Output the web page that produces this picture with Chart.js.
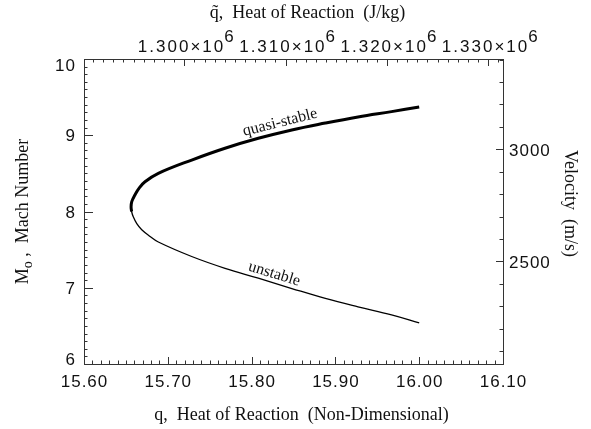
<!DOCTYPE html>
<html>
<head>
<meta charset="utf-8">
<script src="https://cdn.jsdelivr.net/npm/chart.js@4.4.1/dist/chart.umd.min.js"></script>
<style>
  html, body { margin: 0; padding: 0; background: #fff; }
  #wrap { width: 591px; height: 429px; }
</style>
</head>
<body>
<div id="wrap"><canvas id="myChart" width="591" height="429"></canvas></div>
<script>
// conversion factors for the secondary axes
const RT0 = 82699;   // J/kg per unit of non-dimensional q
const A0 = 340.3;    // m/s per unit Mach

// quasi-stable branch (thick), starts just below the turning point
const qStable    = [15.6568, 15.6562, 15.6570, 15.6609, 15.6660, 15.6728, 15.6887, 15.7285, 15.7683, 15.8080, 15.8480, 15.8880, 15.9270, 15.9670, 16.0000];
const machStable = [8.00,    8.06,    8.13,    8.22,    8.31,    8.39,    8.50,    8.675,   8.83,    8.96,    9.07,    9.16,    9.24,    9.31,    9.37];

// unstable branch (thin), starts just above the turning point
const qUnstable    = [15.6570, 15.6562, 15.6568, 15.6588, 15.6630, 15.6689, 15.6780, 15.6887, 15.7285, 15.7683, 15.8080, 15.8480, 15.8880, 15.9270, 15.9670, 16.0000];
const machUnstable = [8.13,    8.06,    8.00,    7.93,    7.84,    7.76,    7.68,    7.60,    7.41,    7.255,   7.125,   6.99,    6.86,    6.75,    6.645,   6.54];

// tick labels
const xTicks   = [15.60, 15.70, 15.80, 15.90, 16.00, 16.10];
const yTicks   = [6, 7, 8, 9, 10];
const topTicks = [1.300e6, 1.310e6, 1.320e6, 1.330e6];
const velTicks = [2500, 3000];

const curveLabels = [
  { text: 'quasi-stable', q: 15.834, m: 9.167, angle: -14 },
  { text: 'unstable',     q: 15.827, m: 7.180, angle: 17 }
];

function pts(xs, ys) {
  return xs.map((x, i) => ({ x: x, y: ys[i] }));
}

const tickFont = '17px "Liberation Sans", Arial, sans-serif';
const serif = '"Liberation Serif", "Times New Roman", serif';
const ink = '#111';

function minorValues(min, max, step) {
  const out = [];
  const start = Math.ceil(min / step - 1e-9);
  for (let k = start; k * step <= max + 1e-9; k++) out.push(k * step);
  return out;
}

const idlAxes = {
  id: 'idlAxes',
  afterDraw(chart) {
    const ctx = chart.ctx;
    const a = chart.chartArea;
    const sx = chart.scales.x, sy = chart.scales.y, st = chart.scales.x2, sr = chart.scales.y2;
    ctx.save();
    ctx.strokeStyle = '#333';
    ctx.lineWidth = 1;
    const major = 7, minor = 3.5;

    // bottom ticks
    ctx.beginPath();
    minorValues(sx.min, sx.max, 0.01).forEach(v => {
      const px = Math.round(sx.getPixelForValue(v)) + 0.5;
      const isMaj = xTicks.some(t => Math.abs(t - v) < 1e-6);
      ctx.moveTo(px, a.bottom); ctx.lineTo(px, a.bottom - (isMaj ? major : minor));
    });
    // top ticks
    minorValues(st.min, st.max, 1000).forEach(v => {
      const px = Math.round(st.getPixelForValue(v)) + 0.5;
      const isMaj = topTicks.some(t => Math.abs(t - v) < 1);
      ctx.moveTo(px, a.top); ctx.lineTo(px, a.top + (isMaj ? major : minor));
    });
    // left ticks
    minorValues(sy.min, sy.max, 0.1).forEach(v => {
      const py = Math.round(sy.getPixelForValue(v)) + 0.5;
      const isMaj = yTicks.some(t => Math.abs(t - v) < 1e-6);
      ctx.moveTo(a.left, py); ctx.lineTo(a.left + (isMaj ? major + 2 : minor), py);
    });
    // right ticks
    minorValues(sr.min, sr.max, 100).forEach(v => {
      const py = Math.round(sr.getPixelForValue(v)) + 0.5;
      const isMaj = velTicks.some(t => Math.abs(t - v) < 1e-6);
      ctx.moveTo(a.right, py); ctx.lineTo(a.right - (isMaj ? major : minor), py);
    });
    ctx.stroke();

    // tick labels
    ctx.fillStyle = ink;
    ctx.font = tickFont;
    ctx.letterSpacing = '1px';
    ctx.textBaseline = 'alphabetic';
    ctx.textAlign = 'center';
    xTicks.forEach(v => {
      ctx.fillText(v.toFixed(2), sx.getPixelForValue(v) + 0.5, a.bottom + 23);
    });
    ctx.textAlign = 'right';
    yTicks.forEach(v => {
      let base = sy.getPixelForValue(v) + 6;
      base = Math.min(Math.max(base, a.top + 12), a.bottom + 1);
      ctx.fillText(String(v), a.left - 8, base);
    });
    ctx.textAlign = 'left';
    velTicks.forEach(v => {
      ctx.fillText(String(v), a.right + 6, sr.getPixelForValue(v) + 6.5);
    });
    // top labels with superscript exponent
    ctx.letterSpacing = '2px';
    ctx.textAlign = 'left';
    topTicks.forEach(v => {
      const main = (v / 1e6).toFixed(3) + '\u00d710';
      const sup = '6';
      const wMain = ctx.measureText(main).width;
      const wSup = ctx.measureText(sup).width;
      const x0 = st.getPixelForValue(v) - (wMain + wSup) / 2 + 3;
      ctx.fillText(main, x0, a.top - 7);
      ctx.fillText(sup, x0 + wMain - 1, a.top - 17);
    });
    ctx.letterSpacing = '0px';

    // axis titles
    ctx.font = '18px ' + serif;
    ctx.textAlign = 'center';
    ctx.fillText('q,  Heat of Reaction  (Non-Dimensional)', (a.left + a.right) / 2 + 8, 420);
    ctx.fillText('q\u0303,  Heat of Reaction  (J/kg)', (a.left + a.right) / 2 + 14, 18);

    // right title, rotated clockwise
    ctx.save();
    ctx.translate(565, (a.top + a.bottom) / 2 - 8);
    ctx.rotate(Math.PI / 2);
    ctx.fillText('Velocity  (m/s)', 0, 0);
    ctx.restore();

    // left title with subscript
    ctx.save();
    ctx.translate(28, (a.top + a.bottom) / 2);
    ctx.rotate(-Math.PI / 2);
    const big = '18px ' + serif, small = '14px ' + serif;
    ctx.font = big; const wM = ctx.measureText('M').width;
    ctx.font = small; const wo = ctx.measureText('o').width;
    ctx.font = big; const rest = ' ,  Mach Number'; const wr = ctx.measureText(rest).width;
    const total = wM + wo + wr;
    let cx = -total / 2;
    ctx.textAlign = 'left';
    ctx.fillText('M', cx, 0); cx += wM;
    ctx.font = small; ctx.fillText('o', cx, 4); cx += wo;
    ctx.font = big; ctx.fillText(rest, cx, 0);
    ctx.restore();

    // curve labels
    ctx.font = '16px ' + serif;
    ctx.textAlign = 'center';
    ctx.textBaseline = 'middle';
    curveLabels.forEach(l => {
      ctx.save();
      ctx.translate(sx.getPixelForValue(l.q), sy.getPixelForValue(l.m));
      ctx.rotate(l.angle * Math.PI / 180);
      ctx.fillText(l.text, 0, 0);
      ctx.restore();
    });
    ctx.restore();
  }
};

function hiddenScale(extra) {
  return Object.assign({
    type: 'linear',
    ticks: { display: false },
    grid: { display: false, drawTicks: false },
    border: { display: true, color: '#333', width: 1 }
  }, extra);
}

const ctx = document.getElementById('myChart').getContext('2d');
const myChart = new Chart(ctx, {
  type: 'line',
  data: {
    datasets: [
      {
        label: 'quasi-stable',
        data: pts(qStable, machStable),
        borderColor: '#000',
        borderWidth: 3,
        pointRadius: 0,
        tension: 0.4,
        fill: false,
        xAxisID: 'x',
        yAxisID: 'y'
      },
      {
        label: 'unstable',
        data: pts(qUnstable, machUnstable),
        borderColor: '#000',
        borderWidth: 1.3,
        pointRadius: 0,
        tension: 0.4,
        fill: false,
        xAxisID: 'x',
        yAxisID: 'y'
      }
    ]
  },
  options: {
    responsive: false,
    animation: false,
    layout: { padding: 0 },
    plugins: {
      legend: { display: false },
      tooltip: { enabled: false }
    },
    scales: {
      x: hiddenScale({ position: 'bottom', min: 15.6, max: 16.1, afterFit: s => { s.height = 65; } }),
      x2: hiddenScale({ position: 'top', min: 15.6 * RT0, max: 16.1 * RT0, afterFit: s => { s.height = 59; } }),
      y: hiddenScale({ position: 'left', min: 6, max: 10, afterFit: s => { s.width = 84; } }),
      y2: hiddenScale({ position: 'right', min: 6 * A0, max: 10 * A0, afterFit: s => { s.width = 88; } })
    }
  },
  plugins: [idlAxes]
});
</script>
</body>
</html>
